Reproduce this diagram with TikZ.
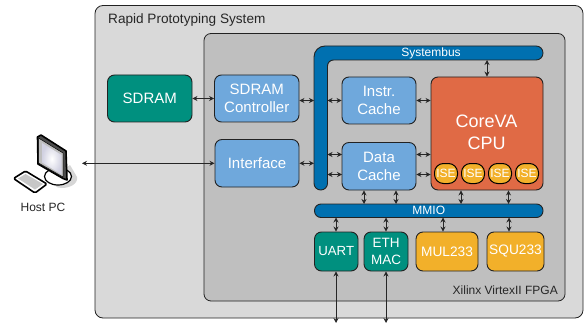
\documentclass[tikz,border=0pt]{standalone}
\usepackage{fontspec}
\setmainfont{Liberation Sans}
\usetikzlibrary{arrows.meta,calc,shadings}
\definecolor{outerc}{HTML}{D9D9D9}
\definecolor{innerc}{HTML}{BFBFBF}
\definecolor{tealc}{HTML}{00907F}
\definecolor{bluec}{HTML}{6FA8DC}
\definecolor{busc}{HTML}{0070B0}
\definecolor{cpuc}{HTML}{E06A45}
\definecolor{yelc}{HTML}{F2B02A}
\definecolor{edgec}{HTML}{222222}
\newcommand{\fs}[2]{\fontsize{#1}{#2}\selectfont}
\newcommand{\pbox}[7]{%
  \pgfmathsetmacro{\cxx}{(#2+#4)/2}\pgfmathsetmacro{\cyy}{(#3+#5)/2}%
  \pgfmathsetmacro{\www}{#4-#2}\pgfmathsetmacro{\hhh}{#5-#3}%
  \node[#6,minimum width=\www pt,minimum height=\hhh pt] (#1) at (\cxx,\cyy) {#7};}
\tikzset{
  x=1pt,y=-1pt,
  block/.style={draw=edgec,line width=0.9pt,rounded corners=7pt,inner sep=0pt,align=center,text=white},
  tealbox/.style={block,fill=tealc},
  bluebox/.style={block,fill=bluec,font=\fs{15}{18.2}},
  yelbox/.style={block,fill=yelc,font=\fs{13.7}{17}},
  isebox/.style={block,draw=black,line width=1pt,fill=yelc,rounded corners=9pt,font=\fs{12}{14}},
  busbox/.style={block,fill=busc,rounded corners=5pt,font=\fs{12}{14}},
  link/.style={{Stealth[length=5pt,width=5pt]}-{Stealth[length=5pt,width=5pt]},draw=black!85,line width=0.8pt},
  caption/.style={inner sep=0pt,text=black!85}
}
\begin{document}
\begin{tikzpicture}
\useasboundingbox (0,0) rectangle (585,323);
% containers
\pbox{sys}{95}{5.5}{583}{318}{draw=edgec,line width=0.8pt,fill=outerc,rounded corners=8pt,inner sep=0pt}{}
\pbox{fpga}{204}{33.5}{565}{301}{draw=edgec,line width=0.8pt,fill=innerc,rounded corners=7pt,inner sep=0pt}{}
\node[caption,anchor=base west,font=\fs{13.6}{16}] (systitle) at (108,24) {Rapid Prototyping System};
\node[caption,anchor=base east,font=\fs{12}{14}] (fpgatitle) at (558,294) {Xilinx VirtexII FPGA};
% system bus (L shape)
\draw[draw=edgec,line width=0.9pt,fill=busc,rounded corners=6.9pt]
  (430,46) -- (543,46) -- (543,60) [rounded corners=6pt] -- (327.5,60)
  [rounded corners=6.7pt] -- (327.5,190) -- (314,190) [rounded corners=11pt] -- (314,46) -- cycle;
\node[inner sep=0pt,text=white,font=\fs{12}{14}] (bustext) at (431,53) {Systembus};
\coordinate (busN) at (487,60);
\coordinate (busE) at (327.5,100.5);
\coordinate (busW) at (314,100.5);
% blocks
\pbox{sdram}{107.5}{75}{192}{122}{tealbox,font=\fs{15}{18}}{SDRAM}
\pbox{ctrl}{214.5}{75}{299}{122}{bluebox}{SDRAM\\Controller}
\pbox{iface}{215}{139.5}{299}{187}{bluebox}{Interface}
\pbox{icache}{342}{77}{416}{124}{bluebox}{Instr.\\Cache}
\pbox{dcache}{342}{142.5}{416}{190}{bluebox}{Data\\Cache}
\pbox{cpu}{431}{77}{543}{190}{block,fill=cpuc}{}
\node[inner sep=0pt,text=white,align=center,font=\fs{18}{21.7}] (cputext) at (486.5,132) {CoreVA\\CPU};
\pbox{isea}{434.5}{163.5}{457.5}{183.5}{isebox}{ISE}
\pbox{iseb}{461.5}{163.5}{484.5}{183.5}{isebox}{ISE}
\pbox{isec}{488.5}{163.5}{511.5}{183.5}{isebox}{ISE}
\pbox{ised}{515.5}{163.5}{538.5}{183.5}{isebox}{ISE}
\pbox{mmio}{314.5}{204}{543}{217.5}{busbox,rounded corners=6.5pt}{MMIO}
\pbox{uart}{314.5}{232}{358}{271}{tealbox,font=\fs{13.2}{17}}{UART}
\pbox{eth}{364}{232}{408}{271}{tealbox,font=\fs{13.5}{17}}{ETH\\MAC}
\pbox{mul}{416}{232}{478}{271}{yelbox}{MUL233}
\pbox{squ}{487}{232}{544}{271}{yelbox}{SQU233}
% host PC
\fill[black!16] (46,182) to[out=10,in=190] (62,188) to[out=0,in=-80] (77,177) -- (70,165) -- cycle;
\draw[black,line width=1.2pt,fill=white] (58,176.5) ellipse[x radius=13.5,y radius=8.5];
\draw[black,line width=1.6pt,fill=black!70,line join=round] (37.5,137) -- (41,135) -- (66,151) -- (67,180) -- (63,178.5) -- (38,164) -- cycle;
\draw[black,line width=0.5pt,fill=black!25,line join=round] (38.5,138) -- (63,153) -- (63,177) -- (38.5,163) -- cycle;
\shade[inner color=white,outer color=blue!35!black!18,line join=round] (42,143) -- (61.5,155) -- (61.5,174.5) -- (42,162.5) -- cycle;
\draw[black,line width=1.6pt,fill=white,rounded corners=1.5pt,line join=round] (13.5,178.5) -- (25.5,171) -- (47,184) -- (35,193) -- cycle;
\fill[black!22] (18,178.5) -- (25.5,174) -- (43,184) -- (35,189.5) -- cycle;
\node[caption,font=\fs{12}{14}] (host) at (43,207) {Host PC};
\coordinate (hostport) at (82,163.3);
\coordinate (uartio) at (336,323);
\coordinate (ethio) at (386,323);
% connectors
\draw[link] (sdram.east) -- (ctrl.west);
\draw[link] (hostport) -- (iface.west |- hostport);
\draw[link] (ctrl.east |- busW) -- (busW);
\draw[link] (iface.east |- hostport) -- (hostport -| busW);
\draw[link] (busE) -- (icache.west |- busE);
\draw[link] (icache.east |- busE) -- (cpu.west |- busE);
\coordinate (dupper) at (342,154.5);
\coordinate (dlower) at (342,174.5);
\draw[link] (busE |- dupper) -- (dupper);
\draw[link] (busE |- dlower) -- (dlower);
\draw[link] (dcache.east |- dupper) -- (cpu.west |- dupper);
\draw[link] (dcache.east |- dlower) -- (cpu.west |- dlower);
\draw[link] (busN) -- (busN |- cpu.north);
\coordinate (m1) at (364,204);\coordinate (m2) at (396,204);
\coordinate (m3) at (461,204);\coordinate (m4) at (508.5,204);
\draw[link] (m1 |- dcache.south) -- (m1);
\draw[link] (m2 |- dcache.south) -- (m2);
\draw[link] (m3 |- cpu.south) -- (m3);
\draw[link] (m4 |- cpu.south) -- (m4);
\coordinate (m5) at (336,217.5);\coordinate (m6) at (386,217.5);
\coordinate (m7) at (443,217.5);\coordinate (m8) at (509,217.5);
\draw[link] (m5) -- (m5 |- uart.north);
\draw[link] (m6) -- (m6 |- eth.north);
\draw[link] (m7) -- (m7 |- mul.north);
\draw[link] (m8) -- (m8 |- squ.north);
\draw[link] (uartio |- uart.south) -- (uartio);
\draw[link] (ethio |- eth.south) -- (ethio);
\end{tikzpicture}
\end{document}
